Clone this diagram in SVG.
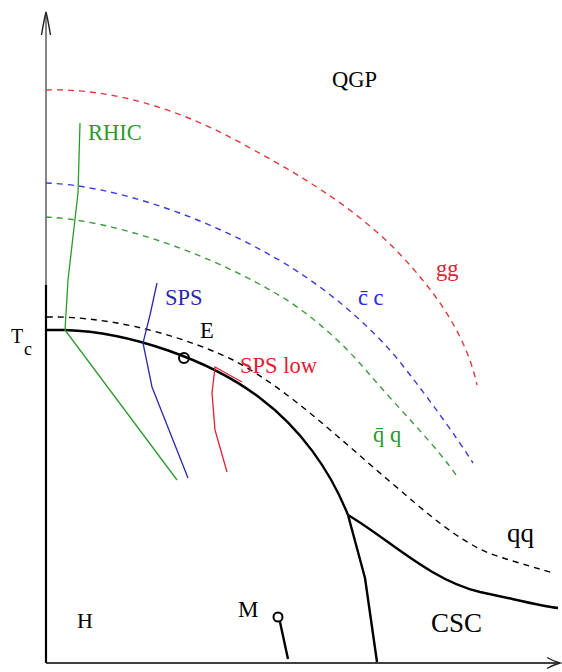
<svg xmlns="http://www.w3.org/2000/svg" width="562" height="672" viewBox="0 0 562 672">
<style>
text{font-family:"Liberation Serif","DejaVu Serif",serif;font-size:22.5px}
text.tc{font-size:20px}
text.sub{font-size:18px}
text.big{font-size:27px}
text.h{font-size:22px}
text.m{font-size:23px}
.d{fill:none;stroke-width:1.4;stroke-dasharray:6 5}
.s{fill:none;stroke:#000;stroke-width:2.4;stroke-linejoin:round}
.t{fill:none;stroke-width:1.3}
</style>
<rect width="562" height="672" fill="#fff"/>
<g id="axes">
<path d="M46,13 V285" stroke="#444" stroke-width="1.3" fill="none"/>
<path d="M46,285 V663" stroke="#000" stroke-width="2.2" fill="none"/>
<path d="M46,663 H558" stroke="#000" stroke-width="1.6" fill="none"/>
<path d="M41.5,35 Q44,20 46,12 Q48,20 50.5,35" stroke="#222" stroke-width="1.4" fill="none"/>
<path d="M547,657.5 Q553,661 560,663 Q553,665 547,668.5" stroke="#222" stroke-width="1.4" fill="none"/>
</g>
<g id="connectors">
<path id="gg-line" class="d" stroke="#e0383a" d="M46,90 C110,88 180,108 250,148 C300,175 350,205 393,247 C430,285 465,330 477,385"/>
<path id="cc-line" class="d" stroke="#3b3bd6" d="M46,183 C110,185 200,215 270,255 C320,282 370,325 400,362 C430,400 455,435 473,463"/>
<path id="qq-line" class="d" stroke="#3a9a3a" d="M46,217 C110,220 200,250 270,290 C310,312 345,345 370,375 C400,410 440,450 458,478"/>
<path id="cross-line" class="d" stroke="#000" d="M47,317 C100,316 170,330 233,360 C290,390 340,440 400,490 C440,525 470,548 500,557 C525,565 540,569 553,573"/>
<path id="boundary" class="s" d="M46,330 L65,330 C130,332 210,360 260,398 C300,428 330,470 348,515"/>
<path id="csc-upper" class="s" d="M348,515 C390,540 430,580 480,592 C510,598 540,606 558,608"/>
<path id="csc-lower" class="s" d="M348,515 L365,578 L377,662"/>
<path id="m-line" class="s" stroke-width="2" d="M280,622 L288,659"/>
<polyline id="rhic-line" class="t" stroke="#2a9a2a" points="80,123 78,193 68,280 65,330 177,480"/>
<polyline id="sps-line" class="t" stroke="#2a2aa8" points="157,283 150,315 143,343 152,387 188,478"/>
<polyline id="spslow-line" class="t" stroke="#e02030" points="242,382 215,367 212,393 215,430 227,472"/>
</g>
<g id="node-E"><circle cx="184" cy="358" r="5" fill="none" stroke="#000" stroke-width="2"/><text x="200" y="338">E</text></g>
<g id="node-M"><circle cx="278" cy="617" r="4.5" fill="none" stroke="#000" stroke-width="2"/><text class="m" x="238" y="617">M</text></g>
<g id="label-QGP"><text x="332" y="87">QGP</text></g>
<g id="label-RHIC"><text x="88" y="140" fill="#2a9a2a">RHIC</text></g>
<g id="label-SPS"><text x="165" y="305" fill="#2a2aa8">SPS</text></g>
<g id="label-SPSlow"><text x="240" y="373" fill="#e02030">SPS low</text></g>
<g id="label-gg"><text x="436" y="276" fill="#e02030">gg</text></g>
<g id="label-cc"><text x="358" y="305" fill="#2a2ae0">c̄ c</text></g>
<g id="label-qq-bar"><text x="373" y="442" fill="#2a9a2a">q̄ q</text></g>
<g id="label-Tc"><text class="tc" x="11" y="343">T</text><text class="sub" x="24" y="355">c</text></g>
<g id="label-qq"><text class="big" x="507" y="542">qq</text></g>
<g id="label-CSC"><text class="big" x="431" y="632">CSC</text></g>
<g id="label-H"><text class="h" x="77" y="628">H</text></g>
</svg>
